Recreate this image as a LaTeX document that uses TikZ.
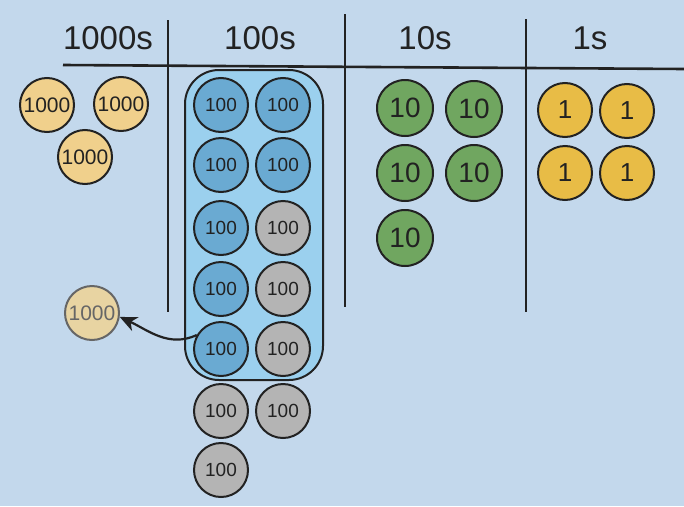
\documentclass[tikz,border=0pt]{standalone}
\usepackage{fontspec}
\setmainfont{Liberation Sans}
\usetikzlibrary{arrows.meta}
\definecolor{bgc}{RGB}{195,216,236}
\definecolor{boxc}{RGB}{155,208,238}
\definecolor{thouc}{RGB}{240,208,140}
\definecolor{fadec}{RGB}{232,212,162}
\definecolor{hundc}{RGB}{106,170,210}
\definecolor{greyc}{RGB}{180,180,180}
\definecolor{tenc}{RGB}{112,166,96}
\definecolor{onec}{RGB}{232,188,70}
\definecolor{inkc}{RGB}{34,34,34}
\begin{document}
\begin{tikzpicture}[
  x=1pt, y=1pt,
  coin/.style = {circle, draw=inkc, line width=2pt, minimum size=54pt,
    inner sep=0pt, text=inkc},
  thou/.style = {coin, fill=thouc, font=\fontsize{21}{21}\selectfont},
  hund/.style = {coin, fill=hundc, font=\fontsize{19}{19}\selectfont},
  spare/.style = {hund, fill=greyc},
  ten/.style = {coin, fill=tenc, minimum size=56pt, font=\fontsize{28}{28}\selectfont},
  one/.style = {coin, fill=onec, font=\fontsize{26}{26}\selectfont},
  head/.style = {text=inkc, font=\fontsize{33}{33}\selectfont},
  rule/.style = {draw=inkc, line width=2.6pt}
  ]
  % background
  \fill[bgc] (0,0) rectangle (684,-506);
  \useasboundingbox (0,0) rectangle (684,-506);

  % headings and rules
  \node[head] (h1000) at (108,-38) {1000s};
  \node[head] (h100) at (260,-38) {100s};
  \node[head] (h10) at (425,-38) {10s};
  \node[head] (h1) at (590,-38) {1s};
  \draw[rule] (63,-65) -- (684,-69);
  \draw[rule] (168,-20) -- (168,-312);
  \draw[rule] (345,-14) -- (345,-307);
  \draw[rule] (526,-19) -- (526,-312);

  % group of ten hundreds
  \node[draw=inkc, line width=2pt, fill=boxc, rounded corners=34pt,
    minimum width=138pt, minimum height=310pt] (grp) at (254,-225) {};

  % thousands
  \node[thou] (k1) at (47,-105) {1000};
  \node[thou] (k2) at (121,-104) {1000};
  \node[thou] (k3) at (85,-157) {1000};
  \node[thou, fill=fadec, draw=black!60, text=black!60] (kx) at (92,-313) {1000};

  % hundreds
  \foreach \r/\y/\sa/\sb in {1/105/hund/hund, 2/165/hund/hund, 3/228/hund/spare,
                             4/289/hund/spare, 5/349/hund/spare, 6/411/spare/spare} {
    \node[\sa] (c\r a) at (221,-\y) {100};
    \node[\sb] (c\r b) at (283,-\y) {100};
  }
  \node[spare] (c7a) at (221,-470) {100};

  % tens
  \node[ten] (t1) at (405,-108) {10};
  \node[ten] (t2) at (474,-109) {10};
  \node[ten] (t3) at (405,-173) {10};
  \node[ten] (t4) at (474,-173) {10};
  \node[ten] (t5) at (405,-238) {10};

  % ones
  \node[one] (o1) at (565,-110) {1};
  \node[one] (o2) at (627,-111) {1};
  \node[one] (o3) at (565,-173) {1};
  \node[one] (o4) at (627,-173) {1};

  % exchange
  \draw[-{Stealth[length=17pt, width=15pt, inset=5pt]}, line width=2.2pt, draw=inkc]
    (c5a.150) to[out=205, in=-25] (kx.-8);
\end{tikzpicture}
\end{document}
